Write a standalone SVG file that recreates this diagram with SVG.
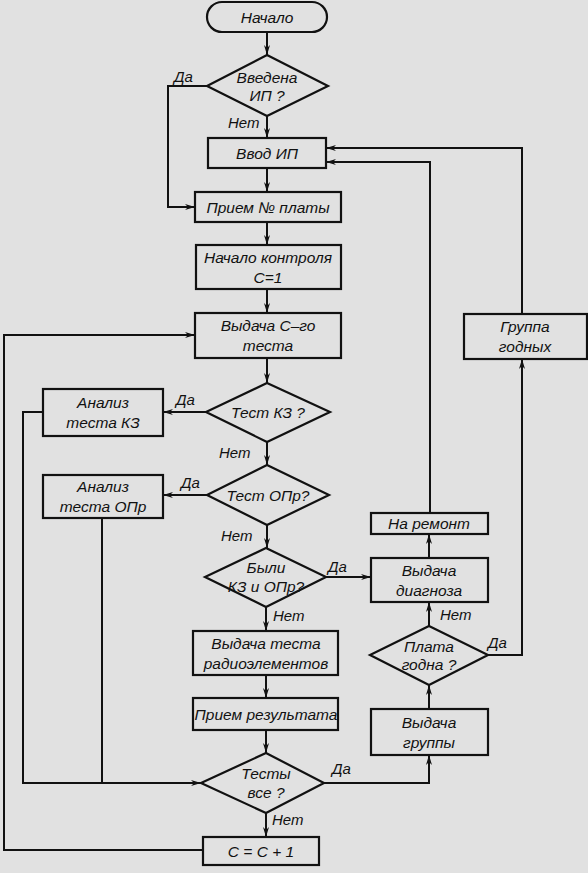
<svg xmlns="http://www.w3.org/2000/svg" width="588" height="873" viewBox="0 0 588 873">
<style>
.bg{fill:#e1e1e1}
.n{fill:none;stroke:#111;stroke-width:2.2}
.c{fill:none;stroke:#111;stroke-width:2}
.t{font-family:"Liberation Sans",Arial,sans-serif;font-style:italic;font-size:15.5px;fill:#111;text-anchor:middle}
.l{font-family:"Liberation Sans",Arial,sans-serif;font-style:italic;font-size:15px;fill:#111}
</style>
<defs>
<marker id="a" viewBox="0 0 10 6" refX="10" refY="3" markerWidth="10" markerHeight="6" markerUnits="userSpaceOnUse" orient="auto">
<path d="M0,0 L10,3 L0,6 L3,3 Z" fill="#111"/>
</marker>
</defs>
<rect class="bg" x="0" y="0" width="588" height="873"/>

<g id="start"><rect class="n" x="207" y="2" width="120" height="30" rx="15"/><text class="t" x="267" y="22.5">Начало</text></g>
<g id="d_ip"><polygon class="n" points="267,55 328,86 267,116 207,86"/><text class="t" x="267" y="83">Введена</text><text class="t" x="267" y="101">ИП ?</text></g>
<g id="input"><rect class="n" x="208" y="138" width="118" height="30"/><text class="t" x="267" y="158.5">Ввод ИП</text></g>
<g id="board"><rect class="n" x="195" y="192" width="146" height="30"/><text class="t" x="268" y="212.5">Прием № платы</text></g>
<g id="ctrl"><rect class="n" x="196" y="245" width="145" height="44"/><text class="t" x="268" y="263">Начало контроля</text><text class="t" x="268" y="283">С=1</text></g>
<g id="test"><rect class="n" x="195" y="313" width="146" height="45"/><text class="t" x="268" y="331">Выдача  С–го</text><text class="t" x="268" y="351">теста</text></g>
<g id="d_kz"><polygon class="n" points="267,383 330,412 267,442 206,412"/><text class="t" x="268" y="418">Тест КЗ ?</text></g>
<g id="a_kz"><rect class="n" x="43" y="389" width="120" height="47"/><text class="t" x="103" y="408">Анализ</text><text class="t" x="103" y="428">теста  КЗ</text></g>
<g id="d_opr"><polygon class="n" points="267,465 329,495 267,525 207,495"/><text class="t" x="268" y="501">Тест ОПр?</text></g>
<g id="a_opr"><rect class="n" x="43" y="475" width="120" height="43"/><text class="t" x="103" y="492">Анализ</text><text class="t" x="103" y="512">теста  ОПр</text></g>
<g id="d_both"><polygon class="n" points="266,548 326,577 266,607 205,577"/><text class="t" x="266" y="573">Были</text><text class="t" x="266" y="592">КЗ и ОПр?</text></g>
<g id="radio"><rect class="n" x="193" y="631" width="145" height="44"/><text class="t" x="266" y="649">Выдача теста</text><text class="t" x="266" y="669">радиоэлементов</text></g>
<g id="result"><rect class="n" x="193" y="698" width="145" height="32"/><text class="t" x="266" y="719.5">Прием результата</text></g>
<g id="d_all"><polygon class="n" points="266,753 324,783 266,813 201,783"/><text class="t" x="266" y="779">Тесты</text><text class="t" x="266" y="798">все ?</text></g>
<g id="inc"><rect class="n" x="203" y="837" width="116" height="28"/><text class="t" x="261" y="856.5">С = С + 1</text></g>
<g id="good"><rect class="n" x="464" y="314" width="123" height="45"/><text class="t" x="525" y="332">Группа</text><text class="t" x="525" y="352">годных</text></g>
<g id="repair"><rect class="n" x="371" y="513" width="117" height="21"/><text class="t" x="429" y="529">На ремонт</text></g>
<g id="diag"><rect class="n" x="371" y="558" width="117" height="44"/><text class="t" x="429" y="576">Выдача</text><text class="t" x="429" y="596">диагноза</text></g>
<g id="d_ok"><polygon class="n" points="429,626 488,655 429,685 370,655"/><text class="t" x="429" y="652">Плата</text><text class="t" x="429" y="670">годна ?</text></g>
<g id="group"><rect class="n" x="371" y="709" width="117" height="46"/><text class="t" x="429" y="728">Выдача</text><text class="t" x="429" y="748">группы</text></g>

<g id="connectors">
<path class="c" d="M267,32 V55" marker-end="url(#a)"/>
<path class="c" d="M267,116 V138" marker-end="url(#a)"/>
<path class="c" d="M207,86 H168 V207 H195" marker-end="url(#a)"/>
<path class="c" d="M267,168 V192" marker-end="url(#a)"/>
<path class="c" d="M267,222 V245" marker-end="url(#a)"/>
<path class="c" d="M267,289 V313" marker-end="url(#a)"/>
<path class="c" d="M267,358 V383" marker-end="url(#a)"/>
<path class="c" d="M206,412 H163" marker-end="url(#a)"/>
<path class="c" d="M267,442 V465" marker-end="url(#a)"/>
<path class="c" d="M207,495 H163" marker-end="url(#a)"/>
<path class="c" d="M267,525 V548" marker-end="url(#a)"/>
<path class="c" d="M326,577 H371" marker-end="url(#a)"/>
<path class="c" d="M266,607 V631" marker-end="url(#a)"/>
<path class="c" d="M266,675 V698" marker-end="url(#a)"/>
<path class="c" d="M266,730 V753" marker-end="url(#a)"/>
<path class="c" d="M43,412 H23 V783 H201" marker-end="url(#a)"/>
<path class="c" d="M102,518 V783"/>
<path class="c" d="M324,783 H429 V755" marker-end="url(#a)"/>
<path class="c" d="M266,813 V837" marker-end="url(#a)"/>
<path class="c" d="M203,850 H4 V335 H195" marker-end="url(#a)"/>
<path class="c" d="M429,709 V685" marker-end="url(#a)"/>
<path class="c" d="M429,626 V602" marker-end="url(#a)"/>
<path class="c" d="M429,558 V534" marker-end="url(#a)"/>
<path class="c" d="M430,513 V162 H326" marker-end="url(#a)"/>
<path class="c" d="M488,655 H522 V359" marker-end="url(#a)"/>
<path class="c" d="M522,314 V148 H326" marker-end="url(#a)"/>
<text class="l" x="174" y="82">Да</text>
<text class="l" x="228" y="128">Нет</text>
<text class="l" x="176" y="405">Да</text>
<text class="l" x="219" y="458">Нет</text>
<text class="l" x="181" y="488">Да</text>
<text class="l" x="221" y="541">Нет</text>
<text class="l" x="328" y="572">Да</text>
<text class="l" x="273" y="621">Нет</text>
<text class="l" x="332" y="774">Да</text>
<text class="l" x="272" y="825">Нет</text>
<text class="l" x="440" y="620">Нет</text>
<text class="l" x="488" y="648">Да</text>
</g>
</svg>
